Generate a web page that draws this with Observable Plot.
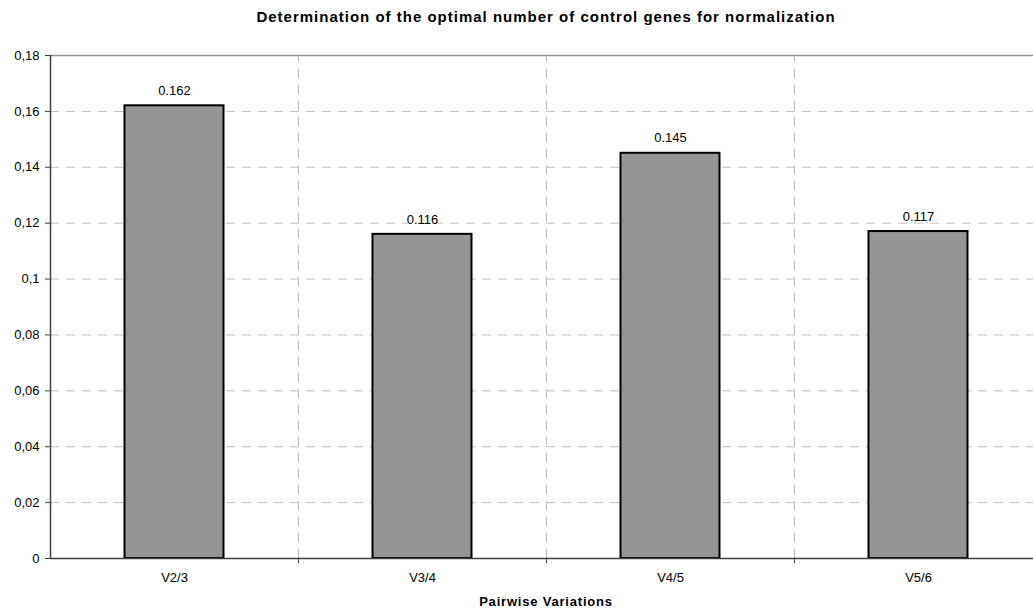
<!DOCTYPE html>
<html>
<head>
<meta charset="utf-8">
<script src="https://cdn.jsdelivr.net/npm/d3@7"></script>
<script src="https://cdn.jsdelivr.net/npm/@observablehq/plot@0.6"></script>
<style>
  body { margin: 0; background: #fff; font-family: "Liberation Sans", Arial, sans-serif; }
  #title { width: 1033px; height: 34px; box-sizing: border-box; padding-left: 59px; text-align: center; font-weight: bold; font-size: 15px; letter-spacing: 1px; line-height: 34px; color: #000; white-space: nowrap; }
  #xlabel { width: 1033px; height: 20px; box-sizing: border-box; padding-left: 59px; text-align: center; font-weight: bold; font-size: 13px; letter-spacing: 0.8px; line-height: 16px; color: #000; white-space: nowrap; }
  svg { display: block; }
</style>
</head>
<body>
<div id="title">Determination of the optimal number of control genes for normalization</div>
<div id="chart"></div>
<div id="xlabel">Pairwise Variations</div>
<script>
const categories = ["V2/3", "V3/4", "V4/5", "V5/6"];
const values = [0.162, 0.116, 0.145, 0.117];
const valueLabels = ["0.162", "0.116", "0.145", "0.117"];
const yTicks = [0, 0.02, 0.04, 0.06, 0.08, 0.1, 0.12, 0.14, 0.16, 0.18];

const data = categories.map((c, i) => ({cat: c, i, value: values[i], label: valueLabels[i]}));
const boundaries = categories.map((c, i) => i + 1);
const centers = categories.map((c, i) => i + 0.5);
const fmt = d => String(+d.toFixed(2)).replace(".", ",");

const chart = Plot.plot({
  width: 1033,
  height: 560,
  marginLeft: 50,
  marginRight: -9,
  marginTop: 21,
  marginBottom: 36,
  style: {fontFamily: "'Liberation Sans', Arial, sans-serif", fontSize: "13px", color: "#000", background: "transparent"},
  x: {domain: [0, categories.length], axis: null},
  y: {domain: [0, 0.18], axis: null},
  marks: [
    Plot.ruleY(yTicks.filter(t => t > 0 && t < 0.18), {stroke: "#c0c0c0", strokeDasharray: "9,7", strokeWidth: 1}),
    Plot.ruleX(boundaries.slice(0, -1), {y1: 0, y2: 0.18, stroke: "#c0c0c0", strokeDasharray: "9,7", strokeWidth: 1}),
    Plot.ruleY([0.18], {stroke: "#909090", strokeWidth: 1.5}),
    Plot.rectY(data, {x1: "i", x2: d => d.i + 1, y: "value", insetLeft: 74.5, insetRight: 74.5, fill: "#969696", stroke: "#000", strokeWidth: 2}),
    Plot.text(data, {x: d => d.i + 0.5, y: "value", text: "label", dy: -15, fontSize: 13, fill: "#000", style: "letter-spacing:0.4px"}),
    Plot.ruleY([0], {stroke: "#404040", strokeWidth: 1.5}),
    Plot.ruleX([0], {y1: 0, y2: 0.18, stroke: "#404040", strokeWidth: 1.5}),
    Plot.axisY({ticks: yTicks, tickSize: 5, tickPadding: 6, tickFormat: fmt, stroke: "#404040", fontSize: 13, label: null}),
    Plot.axisX({ticks: boundaries, tickSize: 5, tickFormat: () => "", stroke: "#404040", label: null}),
    Plot.axisX({ticks: centers, tickSize: 0, tickPadding: 14, tickFormat: d => categories[Math.floor(d)], fontSize: 13, label: null})
  ]
});
document.getElementById("chart").appendChild(chart);
</script>
</body>
</html>
